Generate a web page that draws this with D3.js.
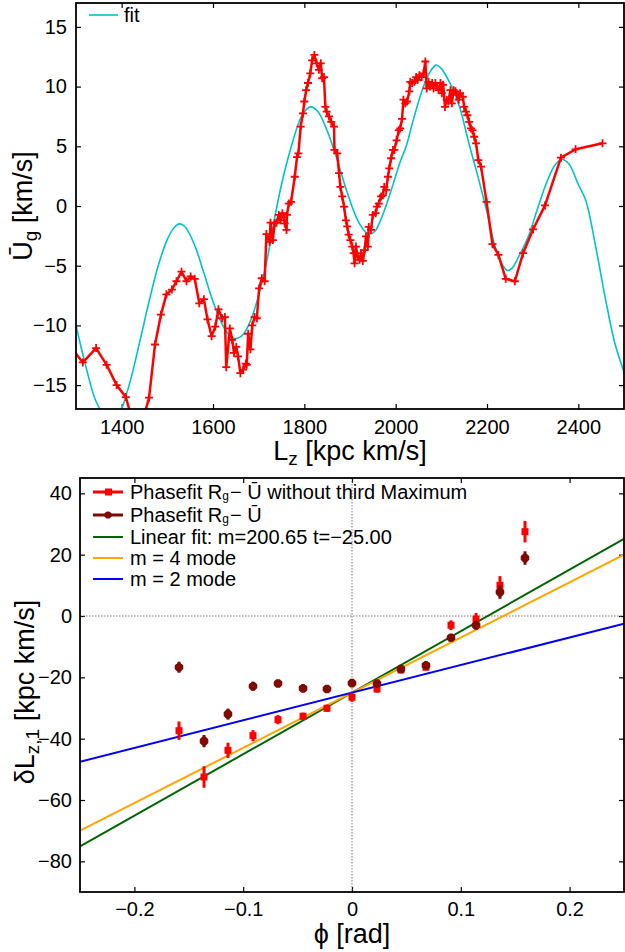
<!DOCTYPE html>
<html><head><meta charset="utf-8">
<script src="https://cdn.jsdelivr.net/npm/d3@7/dist/d3.min.js"></script>
<style>
body{margin:0;background:#fff}
svg text{font-family:"Liberation Sans",Arial,Helvetica,sans-serif;fill:#000}
</style>
</head><body>
<svg id="c" width="625" height="952" xmlns="http://www.w3.org/2000/svg"></svg>
<script>
// ---------- TOP PANEL DATA ----------
const dataLz = [1292,1315,1344,1367,1389,1409,1435,1460,1473,1486,1498,1510,1520,1531,1542,1551,1560,1570,1580,1588,1597,1605,1612,1620,1626,1629,1637,1642,1646,1651,1655,1660,1666,1672,1674,1677,1682,1686,1691,1696,1701,1707,1713,1717,1724,1726,1731,1735,1739,1744,1748,1752,1755,1757,1761,1762,1766,1771,1779,1784,1787,1792,1797,1800,1804,1808,1813,1817,1822,1827,1832,1836,1839,1843,1846,1849,1854,1859,1865,1866,1872,1876,1879,1883,1887,1891,1894,1897,1901,1905,1908,1910,1913,1917,1921,1924,1928,1932,1935,1939,1941,1946,1950,1956,1959,1963,1968,1972,1975,1979,1983,1986,1990,1994,1997,2002,2007,2010,2014,2017,2021,2025,2030,2032,2036,2041,2045,2048,2052,2057,2061,2065,2068,2072,2075,2080,2083,2087,2091,2094,2098,2101,2104,2108,2112,2115,2120,2123,2127,2131,2134,2138,2141,2147,2150,2154,2157,2161,2165,2168,2172,2176,2181,2187,2199,2212,2225,2241,2261,2279,2301,2327,2362,2394,2453];
const dataU = [-12.0,-13.1,-11.9,-13.3,-15.0,-16.0,-19.5,-16.05,-11.6,-9.1,-7.4,-7.0,-6.3,-5.5,-6.3,-5.9,-6.1,-8.15,-7.8,-9.5,-10.9,-10.1,-8.65,-9.4,-9.3,-13.5,-10.25,-11.2,-12.3,-11.8,-12.6,-14.0,-13.7,-13.2,-13.3,-10.7,-12.0,-10.0,-9.3,-9.4,-6.9,-6.05,-6.3,-2.35,-3.0,-1.4,-2.85,-1.45,-1.4,-0.75,-1.2,-0.6,-0.95,-1.45,-2.0,-0.75,0.2,0.35,2.45,4.1,4.4,6.65,7.75,8.75,9.7,10.3,11.1,12.2,12.65,11.95,11.4,11.95,10.7,10.8,8.3,7.9,7.5,7.05,6.65,4.7,4.4,2.75,1.6,0.8,-0.05,-1.2,-1.7,-2.4,-2.85,-3.4,-3.95,-4.8,-3.4,-4.25,-4.5,-3.95,-4.6,-3.7,-2.55,-3.4,-1.75,-2.0,-0.75,-0.6,-0.05,0.2,0.8,0.9,1.6,1.35,2.45,3.15,4.0,4.7,4.7,5.5,6.35,6.5,7.3,8.9,8.6,8.75,9.6,10.4,10.3,10.4,10.8,10.55,10.95,10.8,11.1,12.1,9.85,10.4,10.0,10.3,9.85,10.3,10.0,9.7,10.3,9.45,10.15,8.3,8.9,8.75,9.7,8.6,9.7,9.6,9.3,8.9,9.45,9.15,8.3,7.9,7.6,7.05,6.5,6.35,5.8,5.25,3.85,3.3,0.35,-3.2,-4.1,-6.1,-6.3,-3.95,-1.95,0.05,4.05,4.75,5.25];

const fitLz = [1300,1320,1340,1352,1365,1376,1388,1400,1420,1440,1460,1480,1500,1515,1527,1540,1560,1580,1600,1620,1635,1650,1665,1680,1700,1720,1735,1750,1770,1790,1800,1814,1830,1850,1870,1890,1910,1921,1935,1944,1955,1970,1990,2010,2023,2040,2060,2075,2088,2100,2120,2140,2160,2180,2200,2220,2235,2245,2255,2270,2290,2310,2330,2350,2365,2380,2400,2416,2440,2460,2480,2500];
const fitU = [-10.0,-13.2,-16.0,-17.0,-18.0,-18.3,-18.0,-17.0,-14.5,-11.3,-8.0,-5.0,-2.8,-1.8,-1.5,-1.8,-3.3,-5.6,-8.0,-9.9,-10.8,-11.1,-10.8,-9.8,-7.5,-4.2,-1.0,1.8,4.8,7.2,7.9,8.3,7.9,6.3,4.1,1.6,-0.6,-1.5,-2.2,-2.35,-2.1,-0.9,1.3,3.7,5.0,7.4,9.9,11.2,11.8,11.5,10.2,8.3,5.3,2.5,-0.5,-3.7,-5.0,-5.4,-5.2,-4.2,-2.6,-0.3,1.9,3.5,3.9,3.5,1.8,0.5,-3.8,-7.9,-11.5,-13.9];

const topXTicks = [1400,1600,1800,2000,2200,2400];
const topYTicks = [-15,-10,-5,0,5,10,15];

// ---------- BOTTOM PANEL DATA ----------
const phi       = [-0.159,-0.136,-0.114,-0.091,-0.068,-0.045,-0.023,0,0.023,0.045,0.068,0.091,0.114,0.136,0.159];
const dLzNoMax  = [-37.4,-52.5,-43.8,-39.0,-33.8,-32.7,-30.1,-26.5,-23.8,-17.6,-16.7,-3.0,-1.0,10.0,27.5];
const errNoMax  = [3.0,3.5,2.5,1.8,1.5,1.2,1.2,1.5,1.2,1.0,1.0,1.6,2.0,3.0,3.5];
const dLzAll    = [-16.7,-40.8,-32.0,-22.9,-22.0,-23.6,-23.8,-21.9,-22.0,-17.3,-16.1,-7.1,-3.0,7.8,18.9];
const errAll    = [1.8,2.0,1.8,1.5,1.0,1.0,1.0,1.2,1.0,1.0,1.0,1.2,1.5,2.2,2.2];
const lineX     = [-0.25,0.25];
const linearFitY= [-75.16,25.16];   // m=200.65, t=-25.00
const mode4Y    = [-70.0,20.0];
const mode2Y    = [-47.5,-2.5];
const botXTicks = [-0.2,-0.1,0,0.1,0.2];
const botYTicks = [-80,-60,-40,-20,0,20,40];

const svg = d3.select("#c");
const FS_TICK = 20, FS_LAB = 27, FS_LEG = 20;

// ================= TOP PANEL =================
const T = {l:76,r:624,t:3,b:409};
const xT = d3.scaleLinear().domain([1300,2500]).range([T.l,T.r]);
const yT = d3.scaleLinear().domain([-17,17]).range([T.b,T.t]);

svg.append("clipPath").attr("id","clipT").append("rect")
  .attr("x",T.l).attr("y",T.t).attr("width",T.r-T.l).attr("height",T.b-T.t);

const gT = svg.append("g");
const styleAxis = g => { g.select(".domain").remove();
  g.selectAll(".tick line").attr("stroke","#000").attr("stroke-width",1.2);
  g.selectAll(".tick text").attr("font-size",FS_TICK).attr("font-family","Liberation Sans, Arial, sans-serif"); };

gT.append("g").attr("transform",`translate(0,${T.b})`)
  .call(d3.axisBottom(xT).tickValues(topXTicks).tickSize(-5).tickPadding(11).tickFormat(d3.format("d"))).call(styleAxis);
gT.append("g").attr("transform",`translate(0,${T.t})`)
  .call(d3.axisTop(xT).tickValues(topXTicks).tickSize(-5).tickFormat("")).call(styleAxis);
gT.append("g").attr("transform",`translate(${T.l},0)`)
  .call(d3.axisLeft(yT).tickValues(topYTicks).tickSize(-5).tickPadding(9).tickFormat(d3.format("d"))).call(styleAxis);
gT.append("g").attr("transform",`translate(${T.r},0)`)
  .call(d3.axisRight(yT).tickValues(topYTicks).tickSize(-5).tickFormat("")).call(styleAxis);

const plotT = gT.append("g").attr("clip-path","url(#clipT)");
const fitPts = fitLz.map((v,i)=>[v,fitU[i]]);
plotT.append("path").datum(fitPts)
  .attr("d",d3.line().x(d=>xT(d[0])).y(d=>yT(d[1])).curve(d3.curveCatmullRom))
  .attr("fill","none").attr("stroke","#00c4c4").attr("stroke-width",1.6);

const dataPts = dataLz.map((v,i)=>[v,dataU[i]]);
plotT.append("path").datum(dataPts)
  .attr("d",d3.line().x(d=>xT(d[0])).y(d=>yT(d[1])))
  .attr("fill","none").attr("stroke","#ff0000").attr("stroke-width",2.5).attr("stroke-linejoin","round");
plotT.selectAll("path.plus").data(dataPts).join("path").attr("class","plus")
  .attr("d",d=>{const x=xT(d[0]),y=yT(d[1]),s=4;return `M${x-s},${y}H${x+s}M${x},${y-s}V${y+s}`;})
  .attr("stroke","#ff0000").attr("stroke-width",1.8);

gT.append("rect").attr("x",T.l).attr("y",T.t).attr("width",T.r-T.l).attr("height",T.b-T.t)
  .attr("fill","none").attr("stroke","#000").attr("stroke-width",1.8);

// legend
gT.append("line").attr("x1",89).attr("x2",118).attr("y1",15).attr("y2",15).attr("stroke","#00c4c4").attr("stroke-width",1.6);
gT.append("text").attr("x",124).attr("y",22).attr("font-size",FS_LEG).text("fit");

// labels
const xl = gT.append("text").attr("x",(T.l+T.r)/2).attr("y",460).attr("text-anchor","middle").attr("font-size",FS_LAB);
xl.append("tspan").text("L");
xl.append("tspan").attr("font-size",19).attr("dy",5).text("z");
xl.append("tspan").attr("dy",-5).text(" [kpc km/s]");

const yl = gT.append("text").attr("transform",`translate(32,${(T.t+T.b)/2}) rotate(-90)`).attr("text-anchor","middle").attr("font-size",FS_LAB);
yl.append("tspan").text("Ū");
yl.append("tspan").attr("font-size",19).attr("dy",5).text("g");
yl.append("tspan").attr("dy",-5).text(" [km/s]");

// ================= BOTTOM PANEL =================
const B = {l:80,r:624,t:478,b:892};
const xB = d3.scaleLinear().domain([-0.25,0.25]).range([B.l,B.r]);
const yB = d3.scaleLinear().domain([-90,45]).range([B.b,B.t]);
svg.append("clipPath").attr("id","clipB").append("rect")
  .attr("x",B.l).attr("y",B.t).attr("width",B.r-B.l).attr("height",B.b-B.t);
const gB = svg.append("g");
const fmtX = d => d===0 ? "0" : d3.format(".1f")(d);
gB.append("g").attr("transform",`translate(0,${B.b})`)
  .call(d3.axisBottom(xB).tickValues(botXTicks).tickSize(-5).tickPadding(10).tickFormat(fmtX)).call(styleAxis);
gB.append("g").attr("transform",`translate(0,${B.t})`)
  .call(d3.axisTop(xB).tickValues(botXTicks).tickSize(-5).tickFormat("")).call(styleAxis);
gB.append("g").attr("transform",`translate(${B.l},0)`)
  .call(d3.axisLeft(yB).tickValues(botYTicks).tickSize(-5).tickPadding(8).tickFormat(d3.format("d"))).call(styleAxis);
gB.append("g").attr("transform",`translate(${B.r},0)`)
  .call(d3.axisRight(yB).tickValues(botYTicks).tickSize(-5).tickFormat("")).call(styleAxis);

const plotB = gB.append("g").attr("clip-path","url(#clipB)");
// dotted zero lines
plotB.append("line").attr("x1",B.l).attr("x2",B.r).attr("y1",yB(0)).attr("y2",yB(0))
  .attr("stroke","#777").attr("stroke-width",1).attr("stroke-dasharray","1.5,1.5");
plotB.append("line").attr("x1",xB(0)).attr("x2",xB(0)).attr("y1",B.t).attr("y2",B.b)
  .attr("stroke","#777").attr("stroke-width",1).attr("stroke-dasharray","1.5,1.5");

const lineGen = d3.line().x(d=>xB(d[0])).y(d=>yB(d[1]));
const mkLine = (ys,color) => plotB.append("path").datum(lineX.map((v,i)=>[v,ys[i]]))
  .attr("d",lineGen).attr("fill","none").attr("stroke",color).attr("stroke-width",2);
mkLine(linearFitY,"#006400");
mkLine(mode4Y,"#ffa500");
mkLine(mode2Y,"#0000ff");

const RED="#ff0000", DARK="#7f0a00";
const star = (x,y,s) => {
  const a = s, w = s*0.42;
  let p = "";
  for (let k=0;k<4;k++){
    const ang = k*Math.PI/4, c=Math.cos(ang), sn=Math.sin(ang);
    const pts=[[-a,-w],[a,-w],[a,w],[-a,w]].map(([u,v])=>[x+u*c-v*sn,y+u*sn+v*c]);
    p += "M"+pts.map(q=>q.join(",")).join("L")+"Z";
  }
  return p;
};
phi.forEach((p,i)=>{
  plotB.append("line").attr("x1",xB(p)).attr("x2",xB(p))
    .attr("y1",yB(dLzNoMax[i]-errNoMax[i])).attr("y2",yB(dLzNoMax[i]+errNoMax[i]))
    .attr("stroke",RED).attr("stroke-width",3);
  plotB.append("rect").attr("x",xB(p)-3.5).attr("y",yB(dLzNoMax[i])-3.5).attr("width",7).attr("height",7).attr("fill",RED);
});
phi.forEach((p,i)=>{
  plotB.append("line").attr("x1",xB(p)).attr("x2",xB(p))
    .attr("y1",yB(dLzAll[i]-errAll[i])).attr("y2",yB(dLzAll[i]+errAll[i]))
    .attr("stroke",DARK).attr("stroke-width",3);
  plotB.append("path").attr("d",star(xB(p),yB(dLzAll[i]),4.3)).attr("fill",DARK);
});

gB.append("rect").attr("x",B.l).attr("y",B.t).attr("width",B.r-B.l).attr("height",B.b-B.t)
  .attr("fill","none").attr("stroke","#000").attr("stroke-width",1.8);

// legend
const legY = [492,515,537,558,579];
const legC = [RED,DARK,"#006400","#ffa500","#0000ff"];
legY.forEach((y,i)=>{
  gB.append("line").attr("x1",93).attr("x2",123).attr("y1",y).attr("y2",y).attr("stroke",legC[i]).attr("stroke-width",i<2?3:2);
});
gB.append("rect").attr("x",105).attr("y",legY[0]-3.5).attr("width",7).attr("height",7).attr("fill",RED);
gB.append("path").attr("d",star(108,legY[1],3.6)).attr("fill",DARK);
const legText = (i) => gB.append("text").attr("x",130).attr("y",legY[i]+7).attr("font-size",FS_LEG);
let t0 = legText(0); t0.append("tspan").text("Phasefit R"); t0.append("tspan").attr("font-size",12).attr("dy",1).text("g");
t0.append("tspan").attr("dy",-1).attr("dx",1).text("− Ū without third Maximum");
let t1 = legText(1); t1.append("tspan").text("Phasefit R"); t1.append("tspan").attr("font-size",12).attr("dy",1).text("g");
t1.append("tspan").attr("dy",-1).attr("dx",1).text("− Ū");
legText(2).text("Linear fit: m=200.65 t=−25.00");
legText(3).text("m = 4 mode");
legText(4).text("m = 2 mode");

// axis labels
gB.append("text").attr("x",(B.l+B.r)/2).attr("y",943).attr("text-anchor","middle").attr("font-size",FS_LAB).text("ϕ [rad]");
const yl2 = gB.append("text").attr("transform",`translate(34,692) rotate(-90)`).attr("text-anchor","middle").attr("font-size",FS_LAB);
yl2.append("tspan").text("δL");
yl2.append("tspan").attr("font-size",19).attr("dy",5).text("z,1");
yl2.append("tspan").attr("dy",-5).text(" [kpc km/s]");
</script>
</body></html>
